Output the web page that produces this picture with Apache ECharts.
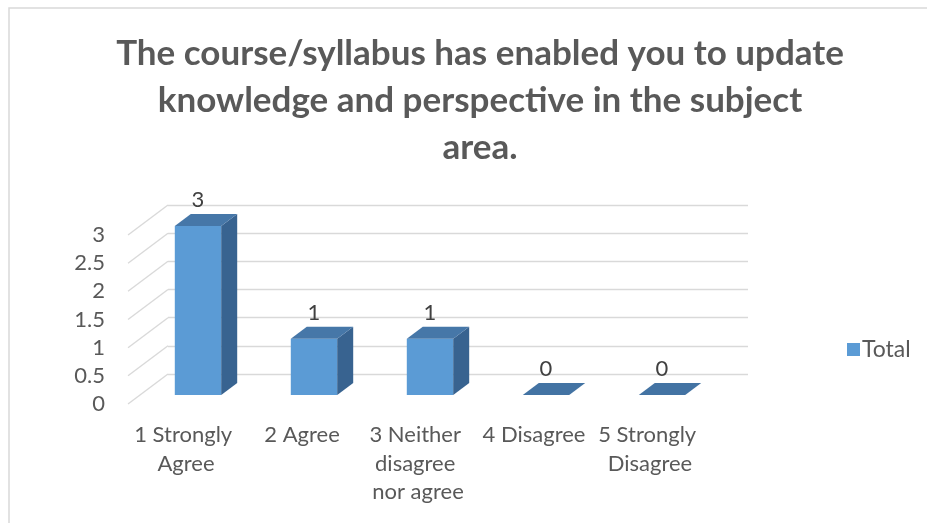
<!DOCTYPE html>
<html><head><meta charset="utf-8">
<script src="https://cdn.jsdelivr.net/npm/echarts@6/dist/echarts.min.js"></script>
<style>html,body{margin:0;padding:0;background:#fff}#c{width:927px;height:523px}</style>
</head><body><div id="c"></div>
<script>
const titleText = 'The course/syllabus has enabled you to update\nknowledge and perspective in the subject\narea.';
const categories = ['1 Strongly Agree', '2 Agree', '3 Neither disagree nor agree', '4 Disagree', '5 Strongly Disagree'];
const totals = [3, 1, 1, 0, 0];
const yTicks = [0, 0.5, 1, 1.5, 2, 2.5, 3];
const seriesName = 'Total';

const FONT = 'Lato, "Open Sans", sans-serif';
const DX = 40, DY = -30;           // depth offset of the 3D box
const D0 = 0.3, D1 = 0.7;          // bar front/back depth fraction
const BAR_RATIO = 0.4;
const FRONT = {left: 128, right: 219, top: 235, bottom: 119};
const BACK = {left: FRONT.left + DX, right: FRONT.right - DX, top: FRONT.top + DY, bottom: FRONT.bottom - DY};

const chart = echarts.init(document.getElementById('c'), null, {renderer: 'canvas'});

function barItem(params, api) {
  const ci = api.value(0), v = api.value(1);
  const bw = api.size([1, 0])[0] * BAR_RATIO;
  const b = api.coord([ci, 0]);
  const t = api.coord([ci, v]);
  const xl = b[0] - bw / 2, xr = b[0] + bw / 2;
  const fx = DX * D0, fy = DY * D0, bx = DX * D1, by = DY * D1;
  const children = [];
  const topFace = [[xl + fx, t[1] + fy], [xr + fx, t[1] + fy], [xr + bx, t[1] + by], [xl + bx, t[1] + by]];
  if (v > 0) {
    children.push({type: 'rect', shape: {x: xl + fx, y: t[1] + fy, width: bw, height: b[1] - t[1]},
      style: {fill: '#5b9bd5'}});
    children.push({type: 'polygon', shape: {points: [[xr + fx, t[1] + fy], [xr + bx, t[1] + by], [xr + bx, b[1] + by], [xr + fx, b[1] + fy]]},
      style: {fill: '#386390'}});
    children.push({type: 'polygon', shape: {points: topFace}, style: {fill: '#4677a8'}});
  } else {
    children.push({type: 'polygon', shape: {points: topFace}, style: {fill: '#4373a3'}});
  }
  children.push({type: 'text', style: {text: String(v), x: b[0] + fx, y: t[1] + by - 14,
    align: 'center', verticalAlign: 'middle', fill: '#404040', font: '22px ' + FONT}});
  return {type: 'group', children};
}

function diagItem(params, api) {
  const cs = params.coordSys;
  const p = api.coord([0, api.value(1)]);
  return {type: 'line', shape: {x1: cs.x, y1: p[1], x2: cs.x + DX, y2: p[1] + DY},
    style: {stroke: '#d9d9d9', lineWidth: 1.3}};
}

chart.setOption({
  backgroundColor: '#fff',
  animation: false,
  title: {
    text: titleText, left: 475, top: 25, textAlign: 'center',
    textStyle: {fontFamily: FONT, fontWeight: 'bold', fontSize: 35, lineHeight: 47, color: '#595959'}
  },
  legend: {
    data: [seriesName], left: 842, top: 333, icon: 'rect', itemWidth: 13, itemHeight: 13, itemGap: 4,
    textStyle: {fontFamily: FONT, fontSize: 23, color: '#595959', padding: [0, 0, 0, -3]}
  },
  graphic: [{type: 'rect', silent: true, shape: {x: 9, y: 8, width: 960, height: 560},
    style: {fill: 'none', stroke: '#d9d9d9', lineWidth: 1.5}}],
  grid: [
    Object.assign({}, FRONT),
    Object.assign({}, BACK)
  ],
  xAxis: [
    {type: 'category', gridIndex: 0, data: categories,
      axisLine: {show: false}, axisTick: {show: false},
      axisLabel: {margin: 17, fontFamily: FONT, fontSize: 22, lineHeight: 28.5, color: '#595959',
        width: 108, overflow: 'break', interval: 0}},
    {type: 'category', gridIndex: 1, data: categories, show: false}
  ],
  yAxis: [
    {type: 'value', gridIndex: 0, min: 0, max: 3, interval: 0.5,
      axisLine: {show: false}, axisTick: {show: false}, splitLine: {show: false},
      axisLabel: {margin: 23, fontFamily: FONT, fontSize: 22, color: '#595959', padding: [5, 0, 0, 0]}},
    {type: 'value', gridIndex: 1, min: 0, max: 3, interval: 0.5,
      axisLine: {show: false}, axisTick: {show: false}, axisLabel: {show: false},
      splitLine: {show: true, lineStyle: {color: '#d9d9d9', width: 1.3}}}
  ],
  series: [
    {type: 'custom', name: 'grid-diagonals', xAxisIndex: 0, yAxisIndex: 0, silent: true,
      data: yTicks.map(t => [0, t]), renderItem: diagItem, z: 1},
    {type: 'custom', name: seriesName, xAxisIndex: 0, yAxisIndex: 0,
      itemStyle: {color: '#5b9bd5'},
      data: totals.map((v, i) => [i, v]), renderItem: barItem, z: 3}
  ]
});
</script></body></html>
